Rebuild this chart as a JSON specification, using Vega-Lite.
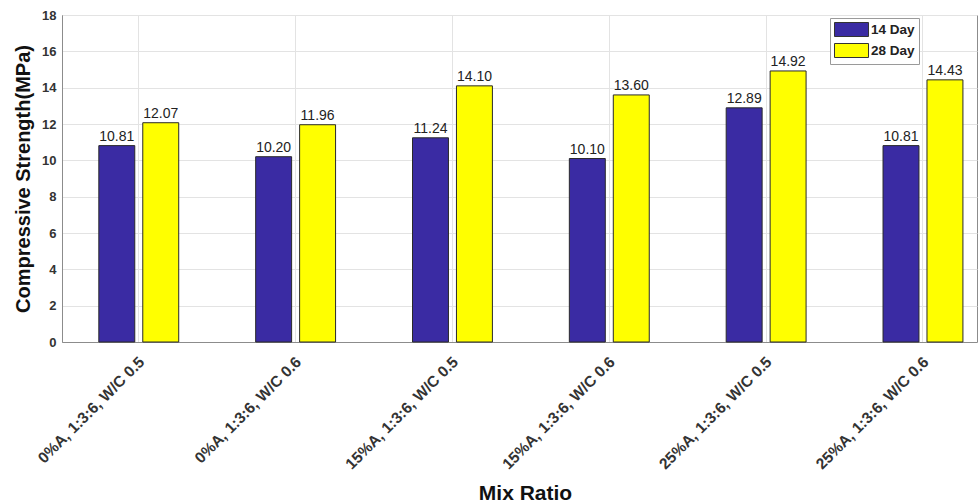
{
  "$schema": "https://vega.github.io/schema/vega-lite/v6.json",
  "width": 915,
  "height": 327,
  "autosize": {"type": "none"},
  "padding": {"left": 62, "top": 15, "right": 1, "bottom": 161},
  "background": "white",
  "config": {
    "font": "Liberation Sans",
    "view": {"stroke": "#8c8c8c", "strokeWidth": 1},
    "axis": {
      "domainColor": "#8c8c8c",
      "gridColor": "#e3e3e3",
      "gridOpacity": 1,
      "ticks": false,
      "labelFont": "Liberation Sans",
      "labelFontWeight": "bold",
      "labelColor": "#333333",
      "titleFont": "Liberation Sans",
      "titleFontWeight": "bold",
      "titleColor": "#111111"
    }
  },
  "data": {
    "values": [
      {"mix": "0%A, 1:3:6, W/C 0.5", "age": "14 Day", "strength": 10.81},
      {"mix": "0%A, 1:3:6, W/C 0.5", "age": "28 Day", "strength": 12.07},
      {"mix": "0%A, 1:3:6, W/C 0.6", "age": "14 Day", "strength": 10.20},
      {"mix": "0%A, 1:3:6, W/C 0.6", "age": "28 Day", "strength": 11.96},
      {"mix": "15%A, 1:3:6, W/C 0.5", "age": "14 Day", "strength": 11.24},
      {"mix": "15%A, 1:3:6, W/C 0.5", "age": "28 Day", "strength": 14.10},
      {"mix": "15%A, 1:3:6, W/C 0.6", "age": "14 Day", "strength": 10.10},
      {"mix": "15%A, 1:3:6, W/C 0.6", "age": "28 Day", "strength": 13.60},
      {"mix": "25%A, 1:3:6, W/C 0.5", "age": "14 Day", "strength": 12.89},
      {"mix": "25%A, 1:3:6, W/C 0.5", "age": "28 Day", "strength": 14.92},
      {"mix": "25%A, 1:3:6, W/C 0.6", "age": "14 Day", "strength": 10.81},
      {"mix": "25%A, 1:3:6, W/C 0.6", "age": "28 Day", "strength": 14.43}
    ]
  },
  "encoding": {
    "x": {
      "field": "mix",
      "type": "nominal",
      "sort": null,
      "scale": {"paddingInner": 0.4, "paddingOuter": 0.117, "align": 0.81},
      "axis": {
        "title": "Mix Ratio",
        "titleFontSize": 21,
        "titlePadding": 10,
        "titleX": 463,
        "labelAngle": -45,
        "labelAlign": "right",
        "labelBaseline": "middle",
        "labelFontSize": 15.5,
        "labelPadding": 17,
        "labelOffset": 3,
        "grid": true,
        "bandPosition": 0.5
      }
    },
    "xOffset": {
      "field": "age",
      "type": "nominal",
      "scale": {"paddingInner": 0.182, "paddingOuter": 0.1615}
    },
    "y": {
      "field": "strength",
      "type": "quantitative",
      "scale": {"domain": [0, 18], "nice": false},
      "axis": {
        "title": "Compressive Strength(MPa)",
        "titleFontSize": 20,
        "titlePadding": 8,
        "values": [0, 2, 4, 6, 8, 10, 12, 14, 16, 18],
        "labelFontSize": 13,
        "labelPadding": 6,
        "grid": true
      }
    }
  },
  "layer": [
    {
      "mark": {"type": "bar", "stroke": "#2a2a2a", "strokeWidth": 1},
      "encoding": {
        "color": {
          "field": "age",
          "type": "nominal",
          "scale": {"domain": ["14 Day", "28 Day"], "range": ["#3a2ba3", "#ffff00"]},
          "legend": {
            "title": null,
            "orient": "none",
            "legendX": 768,
            "legendY": 3,
            "fillColor": "white",
            "strokeColor": "#9a9a9a",
            "padding": 4,
            "rowPadding": 2,
            "symbolType": "M-1,-1H3.86V1H-1Z",
            "symbolSize": 196,
            "symbolStrokeColor": "#333333",
            "symbolStrokeWidth": 1,
            "symbolOpacity": 1,
            "labelFontWeight": "bold",
            "labelFontSize": 13.5,
            "labelColor": "#222222",
            "labelOffset": 22
          }
        }
      }
    },
    {
      "mark": {"type": "text", "baseline": "bottom", "dy": -2, "fontSize": 14, "color": "#222222", "font": "Liberation Sans"},
      "encoding": {
        "text": {"field": "strength", "type": "quantitative", "format": ".2f"}
      }
    }
  ]
}
